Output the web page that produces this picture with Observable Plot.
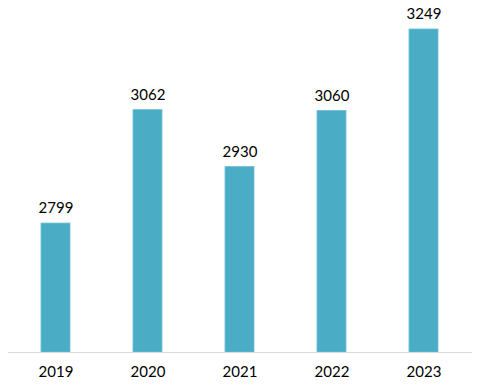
<!DOCTYPE html>
<html>
<head>
<meta charset="utf-8">
<script src="https://cdn.jsdelivr.net/npm/d3@7"></script>
<script src="https://cdn.jsdelivr.net/npm/@observablehq/plot@0.6"></script>
<style>
  html, body { margin: 0; padding: 0; background: #fff; }
</style>
</head>
<body>
<div id="chart"></div>
<script>
const years = ["2019", "2020", "2021", "2022", "2023"];
const values = [2799, 3062, 2930, 3060, 3249];
const yDomain = [2500, 3300];

const data = years.map((y, i) => ({year: y, value: values[i]}));

const chart = Plot.plot({
  width: 477,
  height: 392,
  marginTop: 7,
  marginBottom: 40,
  marginLeft: 8,
  marginRight: 5,
  style: {fontFamily: "Lato, 'Open Sans', sans-serif", fontSize: "15px", color: "#000", background: "#fff"},
  x: {domain: years, paddingInner: 0.68, paddingOuter: 0.34, label: null, tickSize: 0, tickPadding: 14},
  y: {domain: yDomain, axis: null},
  marks: [
    Plot.barY(data, {x: "year", y1: yDomain[0], y2: "value", fill: "#4BACC6", stroke: "#6cc0d6", strokeWidth: 0.8}),
    Plot.ruleY([yDomain[0]], {stroke: "#d9d9d9", strokeWidth: 1}),
    Plot.text(data, {x: "year", y: "value", text: d => String(d.value), dy: -15, fill: "#000", fontSize: 15})
  ]
});
document.getElementById("chart").appendChild(chart);
</script>
</body>
</html>
